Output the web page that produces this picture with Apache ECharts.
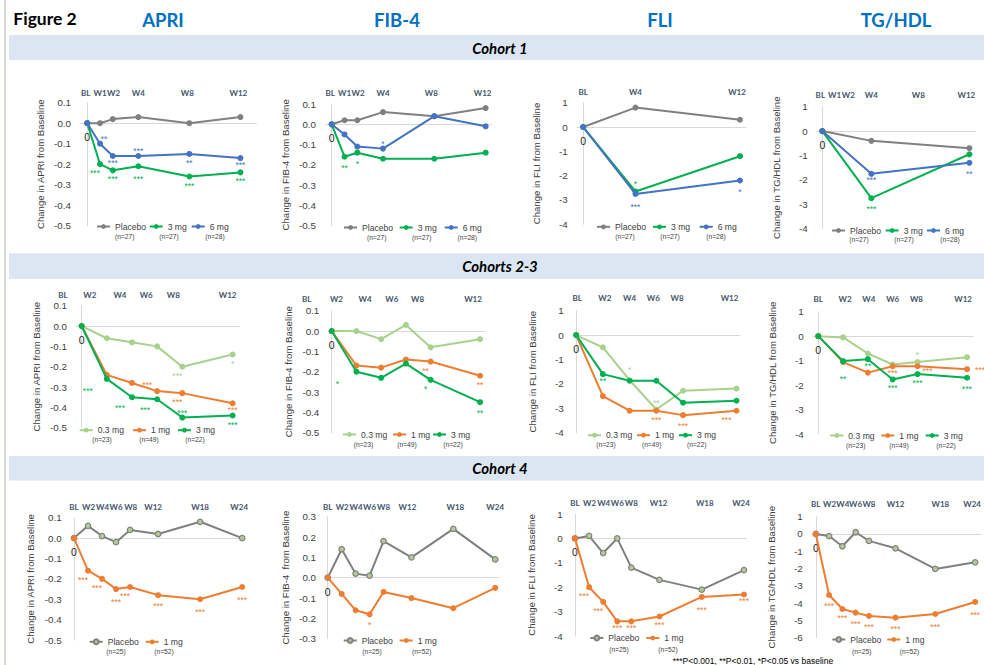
<!DOCTYPE html>
<html><head><meta charset="utf-8">
<script src="https://cdn.jsdelivr.net/npm/echarts@6/dist/echarts.min.js"></script>
<style>html,body{margin:0;padding:0;background:#fff}#c{width:984px;height:665px}</style>
</head><body><div id="c"></div>
<script>
// ================= DATA =================
const headers = ['APRI', 'FIB-4', 'FLI', 'TG/HDL'];
const cohortTitles = ['Cohort 1', 'Cohorts 2-3', 'Cohort 4'];
const figureTitle = 'Figure 2';
const footnote = '***P<0.001, **P<0.01, *P<0.05 vs baseline';

const weeksC1 = [0, 1, 2, 4, 8, 12];
const weeksC1Sparse = [0, 4, 12];
const weeksC23 = [0, 2, 4, 6, 8, 12];
const weeksC4 = [0, 2, 4, 6, 8, 12, 18, 24];

const labelsC1 = ['BL', 'W1', 'W2', 'W4', 'W8', 'W12'];
const labelsC1FLI = ['BL', 'W4', 'W12'];
const labelsC23 = ['BL', 'W2', 'W4', 'W6', 'W8', 'W12'];
const labelsC4 = ['BL', 'W2', 'W4', 'W6', 'W8', 'W12', 'W18', 'W24'];
const originLabel = '0';

const nC1 = ['(n=27)', '(n=27)', '(n=28)'];
const nC23 = ['(n=23)', '(n=49)', '(n=22)'];
const nC4 = ['(n=25)', '(n=52)'];

// Cohort 1
const c1APRI_placebo = [0, 0, 0.02, 0.03, 0, 0.03];
const c1APRI_3mg = [0, -0.20, -0.23, -0.21, -0.26, -0.24];
const c1APRI_6mg = [0, -0.10, -0.16, -0.16, -0.15, -0.17];
const c1APRI_3mg_sig = ['', '***', '***', '***', '***', '***'];
const c1APRI_6mg_sig = ['', '**', '***', '***', '**', '***'];

const c1FIB4_placebo = [0, 0.02, 0.02, 0.06, 0.04, 0.08];
const c1FIB4_3mg = [0, -0.16, -0.14, -0.17, -0.17, -0.14];
const c1FIB4_6mg = [0, -0.05, -0.11, -0.12, 0.04, -0.01];
const c1FIB4_3mg_sig = ['', '**', '*', '', '', ''];
const c1FIB4_6mg_sig = ['', '', '', '*', '', ''];

const c1FLI_placebo = [0, 0.8, 0.3];
const c1FLI_3mg = [0, -2.65, -1.2];
const c1FLI_6mg = [0, -2.75, -2.2];
const c1FLI_3mg_sig = ['', '*', ''];
const c1FLI_6mg_sig = ['', '***', '*'];

const c1TG_placebo = [0, -0.4, -0.7];
const c1TG_3mg = [0, -2.75, -0.95];
const c1TG_6mg = [0, -1.75, -1.3];
const c1TG_3mg_sig = ['', '***', ''];
const c1TG_6mg_sig = ['', '***', '**'];

// Cohorts 2-3
const c23APRI_03mg = [0, -0.06, -0.08, -0.10, -0.20, -0.14];
const c23APRI_1mg = [0, -0.24, -0.28, -0.32, -0.33, -0.38];
const c23APRI_3mg = [0, -0.26, -0.35, -0.36, -0.45, -0.44];
const c23APRI_03mg_sig = ['', '', '', '', '***', '*'];
const c23APRI_1mg_sig = ['', '', '', '***', '***', '***'];
const c23APRI_3mg_sig = ['', '***', '***', '***', '***', '***'];

const c23FIB4_03mg = [0, 0, -0.04, 0.03, -0.08, -0.04];
const c23FIB4_1mg = [0, -0.17, -0.18, -0.14, -0.15, -0.22];
const c23FIB4_3mg = [0, -0.20, -0.23, -0.16, -0.24, -0.35];
const c23FIB4_1mg_sig = ['', '', '', '', '**', '**'];
const c23FIB4_3mg_sig = ['', '*', '', '', '*', '**'];

const c23FLI_03mg = [0, -0.5, -1.85, -3.05, -2.28, -2.19];
const c23FLI_1mg = [0, -2.5, -3.1, -3.1, -3.28, -3.1];
const c23FLI_3mg = [0, -1.6, -1.87, -1.87, -2.77, -2.69];
const c23FLI_03mg_sig = ['', '', '*', '**', '', ''];
const c23FLI_1mg_sig = ['', '', '', '***', '***', '***'];
const c23FLI_3mg_sig = ['', '**', '', '', '', ''];

const c23TG_03mg = [0, -0.05, -0.71, -1.16, -1.06, -0.86];
const c23TG_1mg = [0, -1.06, -1.49, -1.23, -1.23, -1.35];
const c23TG_3mg = [0, -1.02, -0.94, -1.77, -1.55, -1.70];
const c23TG_03mg_sig = ['', '', '', '', '*', ''];
const c23TG_1mg_sig = ['', '', '', '***', '***', '***'];
const c23TG_3mg_sig = ['', '**', '**', '***', '***', '***'];

// Cohort 4
const c4APRI_placebo = [0, 0.06, 0.01, -0.02, 0.04, 0.02, 0.08, 0];
const c4APRI_1mg = [0, -0.16, -0.20, -0.25, -0.24, -0.28, -0.30, -0.24];
const c4APRI_1mg_sig = ['', '***', '***', '***', '***', '***', '***', '***'];

const c4FIB4_placebo = [0, 0.14, 0.02, 0.01, 0.18, 0.10, 0.24, 0.09];
const c4FIB4_1mg = [0, -0.08, -0.16, -0.18, -0.07, -0.10, -0.15, -0.05];
const c4FIB4_1mg_sig = ['', '', '', '*', '', '', '', ''];

const c4FLI_placebo = [0, 0.1, -0.6, 0, -1.2, -1.7, -2.1, -1.3];
const c4FLI_1mg = [0, -2.0, -2.6, -3.4, -3.4, -3.2, -2.4, -2.3];
const c4FLI_1mg_sig = ['', '***', '***', '***', '***', '***', '***', '***'];

const c4TG_placebo = [0, -0.12, -0.71, 0.1, -0.4, -0.83, -2.02, -1.64];
const c4TG_1mg = [0, -3.53, -4.34, -4.55, -4.74, -4.84, -4.63, -3.93];
const c4TG_1mg_sig = ['', '***', '***', '***', '***', '***', '***', '***'];

// ================= STYLE / LAYOUT =================
const GRAY = '#808080', GREEN = '#00B050', BLUE = '#4472C4', LGREEN = '#A9D18E', ORANGE = '#ED7D31', PLFILL = '#B3C996';
const TXT = '#404040', WEEKC = '#44546A', AXISC = '#D9D9D9', BAND = '#DCE6F2', HEADC = '#0070C0';
const SANS = "'Liberation Sans', Arial, sans-serif";
const HUM = "Lato, 'Open Sans', sans-serif";
// star placement (px offset of visible asterisks from the point)
const STAR_OFF = {bs:[0,4.5], b:[0,7], b1:[0,9], b2:[0,11], b3:[0,16], t:[0,-7], t1:[0,-9], t2:[0,-12],
  bl:[-5,7], bL:[-10,7], bl2:[-12,9], l2:[-19,10], tl:[-10,-8], tr:[4,-7], br:[10,3], r:[13,-1]};

const S = (name, data, color, sig, pos, fill) => ({name, data, color, sig, pos, fill});

const panels = [
  {id:'c1a', title:'Change in APRI from Baseline', weeks:weeksC1, labels:labelsC1, labelWeeks:weeksC1, shift:[-1.5,0,0.8,0,-2,-2],
   grid:[80,102.7,177,123], x:[-0.57,13.3], y:[-0.5,0.1,0.1], dec:1, labelY:92.7, legendY:227, nY:236.5,
   textX:[114,166.7,208.7], nX:[124.7,169,215], n:nC1,
   series:[S('Placebo',c1APRI_placebo,GRAY), S('3 mg',c1APRI_3mg,GREEN,c1APRI_3mg_sig,['','bl','b','b2','b','b']),
           S('6 mg',c1APRI_6mg,BLUE,c1APRI_6mg_sig,['','tr','bs','t','b','bs'])]},
  {id:'c1b', title:'Change in FIB-4 from Baseline', weeks:weeksC1, labels:labelsC1, labelWeeks:weeksC1, shift:[-1.5,0,0.8,0,-3,-3],
   grid:[325,104,166.7,121.7], x:[-0.52,12.47], y:[-0.5,0.1,0.1], dec:1, labelY:92.7, legendY:228, nY:237,
   textX:[361,416.7,461.7], nX:[376.7,421.7,467.3], n:nC1,
   series:[S('Placebo',c1FIB4_placebo,GRAY), S('3 mg',c1FIB4_3mg,GREEN,c1FIB4_3mg_sig,['','b1','b1','','','']),
           S('6 mg',c1FIB4_6mg,BLUE,c1FIB4_6mg_sig,['','','','t','',''])]},
  {id:'c1c', title:'Change in FLI from Baseline', weeks:weeksC1Sparse, labels:labelsC1FLI, labelWeeks:weeksC1Sparse, shift:[0,0,-3],
   grid:[576.7,102.7,169.8,121.6], x:[-0.5,12.5], y:[-4,1,1], dec:0, labelY:91.7, legendY:227.3, nY:236.7,
   textX:[614,670,716.7], nX:[625,670,716], n:nC1,
   series:[S('Placebo',c1FLI_placebo,GRAY), S('3 mg',c1FLI_3mg,GREEN,c1FLI_3mg_sig,['','t1','']),
           S('6 mg',c1FLI_6mg,BLUE,c1FLI_6mg_sig,['','b2','b1'])]},
  {id:'c1d', title:'Change in TG/HDL from Baseline', weeks:weeksC1Sparse, labels:labelsC1, labelWeeks:weeksC1, shift:[-2,0,1.5,0,-2,-3],
   grid:[816.7,106.7,159.4,122], x:[-0.46,12.55], y:[-4,1,1], dec:0, labelY:95, legendY:231, nY:239.7,
   textX:[849,902.7,944], nX:[859,904,950], n:nC1,
   series:[S('Placebo',c1TG_placebo,GRAY), S('3 mg',c1TG_3mg,GREEN,c1TG_3mg_sig,['','b1','']),
           S('6 mg',c1TG_6mg,BLUE,c1TG_6mg_sig,['','bs','b1'])]},

  {id:'c2a', title:'Change in APRI from Baseline', weeks:weeksC23, labels:labelsC23, labelWeeks:weeksC23, shift:[-18.7,-17,-12,-11,-9,-5],
   grid:[76,305.7,164.2,122], x:[-0.45,12.6], y:[-0.5,0.1,0.1], dec:1, labelY:295, legendY:430.7, nY:439,
   textX:[96.7,150,195], nX:[102,149,195], n:nC23,
   series:[S('0.3 mg',c23APRI_03mg,LGREEN,c23APRI_03mg_sig,['','','','','bl','b']),
           S('1 mg',c23APRI_1mg,ORANGE,c23APRI_1mg_sig,['','','','tl','bl','bs']),
           S('3 mg',c23APRI_3mg,GREEN,c23APRI_3mg_sig,['','l2','bl2','bl2','t','b'])]},
  {id:'c2b', title:'Change in FIB-4 from Baseline', weeks:weeksC23, labels:labelsC23, labelWeeks:weeksC23, shift:[-25,-20,-16,-14,-13,-7],
   grid:[328.3,310.7,156.7,122], x:[-0.275,12.4], y:[-0.5,0.1,0.1], dec:1, labelY:299, legendY:435, nY:444,
   textX:[360,410,450], nX:[363.5,407,453], n:nC23,
   series:[S('0.3 mg',c23FIB4_03mg,LGREEN),
           S('1 mg',c23FIB4_1mg,ORANGE,c23FIB4_1mg_sig,['','','','','bl','b']),
           S('3 mg',c23FIB4_3mg,GREEN,c23FIB4_3mg_sig,['','l2','','','bl','b1'])]},
  {id:'c2c', title:'Change in FLI from Baseline', weeks:weeksC23, labels:labelsC23, labelWeeks:weeksC23, shift:[1,2,0,-3,-6,-7],
   grid:[572.7,310.7,167.8,122], x:[-0.26,12.3], y:[-4,1,1], dec:0, labelY:298.3, legendY:435.7, nY:444,
   textX:[605,654,696], nX:[606,651.7,696.7], n:nC23,
   series:[S('0.3 mg',c23FLI_03mg,LGREEN,c23FLI_03mg_sig,['','','t2','t1','','']),
           S('1 mg',c23FLI_1mg,ORANGE,c23FLI_1mg_sig,['','','','b','b1','bL']),
           S('3 mg',c23FLI_3mg,GREEN,c23FLI_3mg_sig,['','bs','','','',''])]},
  {id:'c2d', title:'Change in TG/HDL from Baseline', weeks:weeksC23, labels:labelsC23, labelWeeks:weeksC23, shift:[0,2,1,0,-1,-4],
   grid:[812.7,311.7,161.2,122.3], x:[-0.45,12.55], y:[-4,1,1], dec:0, labelY:299.3, legendY:436, nY:445,
   textX:[847.3,898.3,942.7], nX:[855.7,899,946], n:nC23,
   series:[S('0.3 mg',c23TG_03mg,LGREEN,c23TG_03mg_sig,['','','','','t1','']),
           S('1 mg',c23TG_1mg,ORANGE,c23TG_1mg_sig,['','','','bs','br','r']),
           S('3 mg',c23TG_3mg,GREEN,c23TG_3mg_sig,['','b3','bs','b','b','b1'])]},

  {id:'c4a', title:'Change in APRI from Baseline', weeks:weeksC4, labels:labelsC4, labelWeeks:weeksC4, shift:[0,0.5,0.5,0,0.6,-5,0,-3],
   grid:[70.7,517.7,174.3,122.3], x:[-0.47,24.4], y:[-0.5,0.1,0.1], dec:1, labelY:506.7, legendY:642.3, nY:651.7,
   textX:[106.7,162.7], nX:[116,164], n:nC4,
   series:[S('Placebo',c4APRI_placebo,GRAY,null,null,PLFILL),
           S('1 mg',c4APRI_1mg,ORANGE,c4APRI_1mg_sig,['','bl','bl','b2','bl','b1','b2','b2'])]},
  {id:'c4b', title:'Change in FIB-4  from Baseline', weeks:weeksC4, labels:labelsC4, labelWeeks:weeksC4, shift:[0,0.5,0.5,0,0,-4,2,0],
   grid:[325,516.7,174.4,122], x:[-0.39,24.6], y:[-0.3,0.3,0.1], dec:1, labelY:506.7, legendY:641, nY:651.7,
   textX:[360.7,416.7], nX:[372,421.7], n:nC4,
   series:[S('Placebo',c4FIB4_placebo,GRAY,null,null,PLFILL),
           S('1 mg',c4FIB4_1mg,ORANGE,c4FIB4_1mg_sig,['','','','b1','','','',''])]},
  {id:'c4c', title:'Change in FLI from Baseline', weeks:weeksC4, labels:labelsC4, labelWeeks:weeksC4, shift:[0,0.5,0.5,0,0,-1,3,-3],
   grid:[571.7,514,175.1,122], x:[-0.47,24.4], y:[-4,1,1], dec:0, labelY:503.3, legendY:638.5, nY:649.5,
   textX:[607.3,663.3], nX:[619,668], n:nC4,
   series:[S('Placebo',c4FLI_placebo,GRAY,null,null,PLFILL),
           S('1 mg',c4FLI_1mg,ORANGE,c4FLI_1mg_sig,['','bl','bl','bs','bs','b','b2','bs'])]},
  {id:'c4d', title:'Change in TG/HDL from Baseline', weeks:weeksC4, labels:labelsC4, labelWeeks:weeksC4, shift:[0,0.5,0.5,0,0,0,5,-3],
   grid:[811.7,516.7,178.8,121], x:[-0.62,25], y:[-6,1,1], dec:0, labelY:504.3, legendY:640, nY:651,
   textX:[849.3,904.3], nX:[861.7,909.5], n:nC4,
   series:[S('Placebo',c4TG_placebo,GRAY,null,null,PLFILL),
           S('1 mg',c4TG_1mg,ORANGE,c4TG_1mg_sig,['','b1','b','b1','b1','b1','b2','b2'])]}
];

// ================= BUILD =================
const option = {animation:false, backgroundColor:'#fff', textStyle:{fontFamily:SANS},
  grid:[], xAxis:[], yAxis:[], series:[], legend:[], graphic:[]};
const WEEK_FS = 8;

panels.forEach((p, i) => {
  option.grid.push({left:p.grid[0], top:p.grid[1], width:p.grid[2], height:p.grid[3], containLabel:false});
  const rich = {};
  p.labels.forEach((l, k) => {
    const s = p.shift[k] || 0;
    rich['l' + k] = {fontSize:WEEK_FS, fontWeight:'bold', fontFamily:HUM, color:WEEKC,
      padding: s < 0 ? [0, -2 * s, 0, 0] : [0, 0, 0, 2 * s]};
  });
  option.xAxis.push({type:'value', gridIndex:i, position:'top', min:p.x[0], max:p.x[1],
    axisLine:{show:false}, axisTick:{show:false}, splitLine:{show:false},
    axisLabel:{show:true, customValues:p.labelWeeks, margin:p.grid[1] - p.labelY - WEEK_FS / 2,
      fontSize:WEEK_FS, fontWeight:'bold', fontFamily:HUM, color:WEEKC, rich,
      formatter:(v) => { const k = p.labelWeeks.findIndex(q => Math.abs(q - v) < 1e-6); return k >= 0 ? '{l' + k + '|' + p.labels[k] + '}' : ''; }}});
  option.yAxis.push({type:'value', gridIndex:i, min:p.y[0], max:p.y[1], interval:p.y[2],
    axisLine:{show:true, lineStyle:{color:AXISC, width:1}}, axisTick:{show:false}, splitLine:{show:false},
    axisLabel:{margin:9, fontSize:9.8, color:TXT, fontFamily:SANS,
      formatter:(v) => p.dec ? (Math.abs(v) < 1e-9 ? '0.0' : v.toFixed(1)) : String(Math.round(v))},
    name:p.title, nameLocation:'middle', nameGap:35, nameTextStyle:{fontSize:9.6, color:TXT, fontFamily:SANS}});

  p.series.forEach((s, j) => {
    const data = p.weeks.map((w, k) => {
      const item = {value:[w, s.data[k]]};
      if (s.sig && s.sig[k]) {
        const off = STAR_OFF[s.pos[k]] || [0, 7];
        item.label = {show:true, formatter:s.sig[k], position:'inside', offset:[off[0], off[1] + 2],
          color:s.color, fontSize:8.5, fontFamily:SANS, textBorderWidth:0};
      }
      if (j === 0 && k === 0) {
        item.label = {show:true, formatter:originLabel, position:'inside', offset:[0, 14],
          color:'#222', fontSize:10.5, fontFamily:SANS, textBorderWidth:0};
      }
      return item;
    });
    const ser = {type:'line', name:p.id + '|' + s.name, xAxisIndex:i, yAxisIndex:i, data,
      symbol:'circle', symbolSize:s.fill ? 5.5 : 6, showAllSymbol:true, clip:false,
      lineStyle:{color:s.color, width:2},
      itemStyle:{color:s.fill || s.color, borderColor:s.color, borderWidth:s.fill ? 1.2 : 0},
      label:{show:false}, emphasis:{disabled:true}, z:3 + j};
    if (j === 0) {
      ser.markLine = {silent:true, symbol:['none', 'none'], label:{show:false}, animation:false,
        lineStyle:{color:AXISC, width:1, type:'solid'}, data:[{yAxis:0}], z:1};
    }
    option.series.push(ser);
    option.legend.push({data:[{name:p.id + '|' + s.name}], left:p.textX[j] - 13 - 5, top:p.legendY - 5,
      padding:0, itemWidth:13, itemHeight:6, itemGap:0, selectedMode:false,
      formatter:(n) => n.split('|')[1], textStyle:{fontSize:8.6, color:TXT, fontFamily:SANS}});
    option.graphic.push({type:'text', silent:true, style:{text:p.n[j], x:p.nX[j], y:p.nY,
      align:'center', verticalAlign:'middle', fontSize:6.7, fontFamily:SANS, fill:TXT}});
  });
});

// decorations
option.graphic.push({type:'line', silent:true, shape:{x1:5, y1:0, x2:5, y2:665}, style:{stroke:'#C5D0C2', lineWidth:1.5}});
option.graphic.push({type:'text', silent:true, style:{text:figureTitle, x:13.3, y:18.5, align:'left', verticalAlign:'middle',
  fontSize:17.5, fontWeight:'bold', fontFamily:HUM, fill:'#000'}});
const headerX = [163, 397, 660, 896];
headers.forEach((h, k) => option.graphic.push({type:'text', silent:true, style:{text:h, x:headerX[k], y:19.5,
  align:'center', verticalAlign:'middle', fontSize:18.5, fontWeight:'bold', fontFamily:HUM, fill:HEADC}}));
const bandY = [[35, 25], [253.3, 25.7], [456, 24.5]];
cohortTitles.forEach((t, k) => {
  option.graphic.push({type:'rect', silent:true, z:-1, shape:{x:9, y:bandY[k][0], width:980, height:bandY[k][1]}, style:{fill:BAND}});
  option.graphic.push({type:'text', silent:true, style:{text:t, x:500, y:bandY[k][0] + bandY[k][1] / 2,
    align:'center', verticalAlign:'middle', fontSize:15, fontWeight:'bold', fontStyle:'italic', fontFamily:HUM, fill:'#000'}});
});
option.graphic.push({type:'text', silent:true, style:{text:footnote, x:672.7, y:656, align:'left', verticalAlign:'top',
  fontSize:8.5, fontFamily:SANS, fill:'#000'}});

const chart = echarts.init(document.getElementById('c'), null, {renderer:'svg', width:984, height:665});
chart.setOption(option);
</script></body></html>
